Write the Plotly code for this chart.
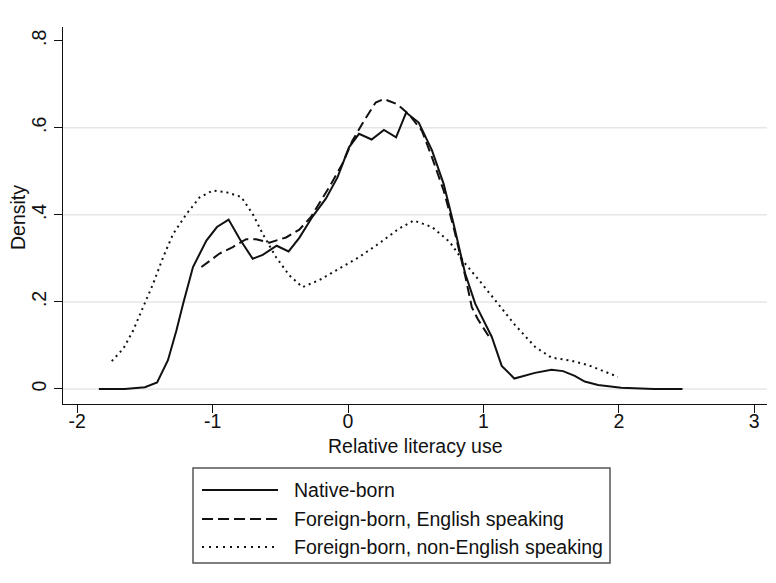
import plotly.graph_objects as go

# ---------------- data ----------------
native_x = [-1.84, -1.65, -1.50, -1.41, -1.33, -1.267, -1.218, -1.145, -1.046, -0.968,
            -0.882, -0.801, -0.704, -0.630, -0.527, -0.439, -0.360, -0.262, -0.164, -0.078,
            0.007, 0.081, 0.174, 0.265, 0.355, 0.429, 0.522, 0.620, 0.706, 0.779,
            0.865, 0.939, 1.061, 1.135, 1.228, 1.380, 1.502, 1.588, 1.674, 1.748,
            1.846, 2.017, 2.260, 2.470]
native_y = [0.000, 0.000, 0.004, 0.015, 0.066, 0.135, 0.196, 0.280, 0.341, 0.372,
            0.389, 0.345, 0.299, 0.308, 0.329, 0.316, 0.347, 0.396, 0.437, 0.486,
            0.555, 0.586, 0.573, 0.595, 0.578, 0.635, 0.612, 0.548, 0.471, 0.380,
            0.265, 0.196, 0.120, 0.053, 0.024, 0.037, 0.044, 0.041, 0.030, 0.017,
            0.009, 0.003, 0.000, 0.000]

eng_x = [-1.083, -0.949, -0.851, -0.752, -0.679, -0.581, -0.458, -0.360, -0.274, -0.140,
         -0.042, 0.032, 0.118, 0.204, 0.265, 0.363, 0.449, 0.546, 0.620, 0.706,
         0.779, 0.865, 0.914, 0.959, 1.049]
eng_y = [0.280, 0.311, 0.326, 0.344, 0.344, 0.336, 0.348, 0.366, 0.395, 0.463,
         0.517, 0.570, 0.616, 0.658, 0.666, 0.654, 0.631, 0.593, 0.532, 0.456,
         0.372, 0.260, 0.188, 0.160, 0.116]

noneng_x = [-1.745, -1.659, -1.586, -1.512, -1.439, -1.365, -1.292, -1.193, -1.096, -0.998,
            -0.899, -0.789, -0.704, -0.630, -0.532, -0.434, -0.336, -0.213, -0.066, 0.081,
            0.228, 0.375, 0.485, 0.620, 0.750, 0.865, 0.988, 1.110, 1.233, 1.380,
            1.502, 1.649, 1.772, 1.895, 1.993]
noneng_y = [0.064, 0.093, 0.135, 0.189, 0.242, 0.303, 0.356, 0.402, 0.440, 0.456,
            0.452, 0.441, 0.402, 0.356, 0.303, 0.261, 0.234, 0.250, 0.276, 0.303,
            0.334, 0.368, 0.387, 0.372, 0.338, 0.288, 0.242, 0.196, 0.147, 0.097,
            0.072, 0.065, 0.055, 0.040, 0.028]

series_names = ["Native-born", "Foreign-born, English speaking",
                "Foreign-born, non-English speaking"]
x_ticks = [-2, -1, 0, 1, 2, 3]
x_ticktext = ["-2", "-1", "0", "1", "2", "3"]
y_ticks = [0, 0.2, 0.4, 0.6, 0.8]
y_ticktext = ["0", ".2", ".4", ".6", ".8"]
grid_y = [0, 0.2, 0.4, 0.6]

# ---------------- styling ----------------
PAGE_OFF = 8                      # default body margin of the html page
W, H = 776 - PAGE_OFF, 583 - PAGE_OFF
PLOT_LEFT, PLOT_TOP, PLOT_RIGHT, PLOT_BOTTOM = 63, 27, 767, 404   # page pixels
L, T = PLOT_LEFT - PAGE_OFF, PLOT_TOP - PAGE_OFF
R = 776 - PLOT_RIGHT
B = 583 - PLOT_BOTTOM
PW, PH = PLOT_RIGHT - PLOT_LEFT, PLOT_BOTTOM - PLOT_TOP
FONT = "Liberation Sans, Arial, Helvetica, sans-serif"
FS = 19.5
INK = "#111111"
dashes = ["solid", "10px,5px", "2px,4px"]
legend_dashes = ["solid", "11px,5px", "2px,5px"]


def px_x(p):
    return (p - PLOT_LEFT) / PW


def px_y(p):
    return (PLOT_BOTTOM - p) / PH


fig = go.Figure()
for xs, ys, name, d in zip([native_x, eng_x, noneng_x], [native_y, eng_y, noneng_y],
                           series_names, dashes):
    fig.add_trace(go.Scatter(x=xs, y=ys, mode="lines", name=name,
                             line=dict(color=INK, width=2, dash=d),
                             showlegend=False))

shapes = []
for gy in grid_y:
    shapes.append(dict(type="line", xref="paper", yref="y", x0=0, x1=1, y0=gy, y1=gy,
                       line=dict(color="#e6e6e6", width=1.5), layer="below"))

# legend box
shapes.append(dict(type="rect", xref="paper", yref="paper",
                   x0=px_x(193), x1=px_x(610), y0=px_y(468), y1=px_y(563),
                   line=dict(color="#555555", width=1.5), fillcolor="white"))
annotations = []
rows = [490, 519, 547]
for name, d, ry in zip(series_names, legend_dashes, rows):
    shapes.append(dict(type="line", xref="paper", yref="paper",
                       x0=px_x(202), x1=px_x(278), y0=px_y(ry), y1=px_y(ry),
                       line=dict(color=INK, width=1.8, dash=d)))
    annotations.append(dict(text=name, xref="paper", yref="paper", x=px_x(292), y=px_y(ry),
                            xanchor="left", yanchor="middle", showarrow=False,
                            font=dict(family=FONT, size=FS, color=INK)))

annotations.append(dict(text="Relative literacy use", xref="paper", yref="paper",
                        x=px_x(415), y=px_y(446), xanchor="center", yanchor="middle",
                        showarrow=False, font=dict(family=FONT, size=FS, color=INK)))
annotations.append(dict(text="Density", xref="paper", yref="paper", textangle=-90,
                        x=px_x(18), y=px_y(218), xanchor="center", yanchor="middle",
                        showarrow=False, font=dict(family=FONT, size=FS, color=INK)))

axis_common = dict(showline=True, linecolor=INK, linewidth=1.3, ticks="outside",
                   ticklen=8, tickwidth=1.3, tickcolor=INK, showgrid=False,
                   zeroline=False, tickfont=dict(family=FONT, size=FS, color=INK))

fig.update_layout(
    width=W, height=H,
    margin=dict(l=L, r=R, t=T, b=B, autoexpand=False),
    paper_bgcolor="white", plot_bgcolor="white",
    xaxis=dict(range=[-2.105, 3.094], tickvals=x_ticks, ticktext=x_ticktext,
               ticklabelstandoff=-9, **axis_common),
    yaxis=dict(range=[-0.0345, 0.8314], tickvals=y_ticks, ticktext=y_ticktext,
               tickangle=-90, **axis_common),
    shapes=shapes, annotations=annotations, showlegend=False,
)

fig.write_html("out.html")
